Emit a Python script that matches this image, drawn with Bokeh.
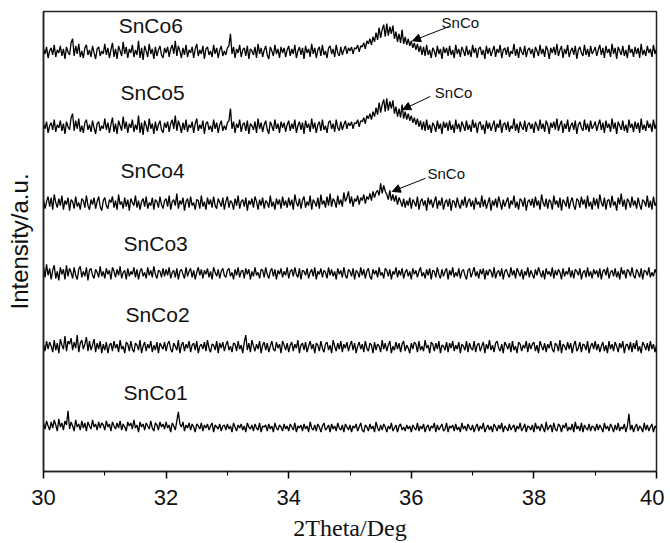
from bokeh.plotting import figure
from bokeh.models import Range1d, Arrow, NormalHead, FixedTicker, ColumnDataSource
from bokeh.core.properties import value
from bokeh.embed import file_html
from bokeh.resources import INLINE

# ---- data: 2-theta grid (step 0.025 deg) and six XRD patterns (a.u.) ----
two_theta_start = 30.0
two_theta_step = 0.025

snco56 = [
    3,-2,5,-6,1,4,-3,7,-5,2,-1,6,-4,3,-7,5,0,-3,9,13,-4,6,-2,8,-5,1,-6,4,7,-3,2,-5,6,-1,-7,3,5,-4,1,-2,
    8,-3,4,-6,2,9,-5,3,-7,6,1,-4,10,-2,5,-6,3,-1,7,-5,2,-3,11,-6,4,-8,6,1,-5,8,-2,3,-7,5,-4,2,6,-3,-6,4,
    -1,5,-5,3,7,-2,11,-4,6,1,-6,4,-3,7,-5,2,-1,5,-6,3,8,-4,2,-2,6,-7,3,5,-3,1,-5,7,-2,4,-6,2,6,-4,1,-3,
    4,6,18,-2,5,-6,3,-1,7,-5,2,4,-4,6,-7,3,1,-3,5,-6,8,-2,4,-5,2,6,-3,-7,5,1,-4,7,-2,3,-6,5,-1,4,-5,2,
    6,-4,3,-2,7,-6,1,5,-3,4,-7,6,-1,3,-5,8,-2,4,-6,2,5,-4,7,-3,1,-6,4,6,-2,3,-5,7,-1,-4,5,-3,2,6,-2,4,
    1,5,-2,4,3,7,0,6,5,9,3,11,8,13,7,15,10,19,12,24,14,22,27,15,28,16,25,18,26,13,20,10,18,9,22,8,15,7,13,6,
    11,4,9,2,8,0,6,-3,5,-4,7,-3,2,-6,4,1,-5,6,-2,3,-7,5,-1,4,-4,6,-3,2,-6,7,-2,3,-5,5,1,-4,6,-3,2,-5,
    7,-1,4,-6,3,5,-3,2,-7,6,-2,4,-4,1,6,-5,3,-1,7,-6,2,4,-3,5,-5,1,-2,8,-4,3,-6,5,0,-3,6,-5,2,4,-2,3,
    -6,5,1,-4,7,-2,3,-5,6,2,-7,4,-1,5,-3,8,-4,2,6,-6,3,-2,7,-5,1,4,-3,6,-7,2,5,-1,-4,7,-3,3,-5,6,-2,1,
    5,-4,2,7,-3,4,-6,6,-1,3,-5,8,-2,4,-7,5,1,-3,6,-4,2,-6,7,-1,3,-5,5,-2,4,-6,8,-3,2,-4,6,-1,3,-5,7,-2,3,
]
snco6 = snco56
snco5 = snco56
snco4 = [
    4,-5,2,7,-3,6,-6,9,1,-4,5,-2,8,-6,3,-1,6,-7,4,2,-5,7,-3,1,-6,5,3,-4,8,-2,-6,4,-1,6,-5,2,7,-3,-7,3,
    6,-2,-5,4,1,7,-4,3,-6,9,-1,2,-5,6,-3,4,-7,5,1,-2,8,-4,3,-6,2,5,-3,7,-5,1,-2,6,-6,4,2,-4,7,-1,-5,3,
    5,-3,8,-6,2,4,-2,10,-5,3,-1,6,-7,2,5,-4,7,-2,1,-6,4,3,-5,8,-3,2,-6,6,-1,4,-4,7,-2,-5,5,1,-3,6,-6,2,
    7,-4,3,1,-6,5,-2,8,-5,2,4,-3,6,-7,3,-1,5,-4,7,2,-6,4,-2,6,-5,3,1,-4,8,-3,2,-6,5,-1,4,-5,7,-2,3,-4,
    6,-2,4,-6,9,1,-3,5,-5,3,7,-4,2,-2,8,-6,4,1,-3,6,-5,9,-1,3,-4,7,-2,10,-3,5,2,-4,8,-1,4,-3,11,2,6,12,
    0,7,-3,5,2,8,-1,6,3,9,0,7,4,10,3,12,6,11,13,8,20,10,18,12,9,4,13,3,9,2,8,-1,6,2,-3,5,-4,3,-2,6,
    -5,4,1,-3,7,-6,2,5,-2,3,-7,6,-1,4,-4,2,7,-5,3,-2,6,-6,1,4,-3,5,-7,3,2,-4,6,-1,-5,4,-2,7,-4,2,5,-3,
    3,-6,6,-1,2,-4,8,-3,4,-5,1,6,-7,3,-2,5,-4,7,1,-6,4,-3,2,6,-5,3,-1,8,-4,2,-6,5,3,-3,6,-7,2,4,-2,5,
    -4,7,-2,3,-6,9,1,-3,5,-5,4,2,-6,8,-1,3,-4,6,-7,4,1,-3,7,-5,2,6,-2,-6,5,3,-4,7,-1,4,-5,8,-3,2,-6,6,
    -2,5,-5,9,1,-3,6,-6,3,4,-4,8,-2,2,-7,6,-1,10,-3,4,-6,5,2,-4,7,-2,3,-5,6,-1,-6,4,2,-3,8,-4,3,-6,7,-2,1,
]
snco3 = [
    7,-4,9,-2,5,-6,3,8,-5,2,-7,6,-1,4,-6,8,-3,5,1,-5,6,-2,-6,4,7,-4,2,-3,6,-7,3,5,-2,-5,4,1,-4,7,-3,2,
    -5,5,-1,3,-6,6,2,-4,4,-2,7,-5,1,3,-6,5,-3,2,-1,6,-4,4,-6,2,5,-3,1,-5,6,-2,3,-4,7,-1,-5,3,2,-4,5,-3,
    4,-2,6,-5,1,3,-4,5,-6,2,4,-1,-5,6,-3,2,5,-4,3,-6,1,6,-2,4,-5,3,-1,5,-4,2,-6,6,1,-3,4,-5,2,5,-2,-4,
    3,5,-3,1,-6,4,-2,6,-4,2,3,-5,5,-1,4,-6,2,-3,6,-2,1,-5,4,3,-4,6,-1,-5,2,5,-3,4,-6,3,-1,5,-4,2,-2,6,
    -5,2,4,-3,6,-1,-4,5,-6,3,2,-2,5,-5,1,4,-3,6,-6,2,-1,5,-4,3,1,-5,6,-2,4,-3,2,-6,5,-1,3,-4,6,-2,-5,4,
    2,-3,5,-6,3,1,-4,6,-2,4,-5,2,5,-3,-6,4,-1,3,-4,6,-2,1,-5,5,3,-3,4,-6,2,-1,6,-4,3,-2,5,-5,1,4,-3,2,
    -6,5,-1,3,-4,2,6,-3,1,-5,4,-2,5,-6,3,2,-4,6,-1,-5,4,-3,2,5,-6,3,-2,6,-4,1,-3,5,-5,2,4,-2,-6,3,5,-4,
    1,6,-3,2,-5,4,-1,5,-6,3,-2,4,2,-4,6,-5,1,3,-3,5,-6,2,4,-1,-4,6,-2,3,-5,5,1,-3,4,-6,2,-2,6,-4,3,-1,
    -5,4,-2,6,1,-4,3,-6,5,-1,2,-3,6,-5,3,-2,4,1,-6,5,-3,2,-1,6,-4,3,-5,4,2,-2,5,-6,1,3,-4,6,-3,2,-5,4,
    -1,3,-4,5,-6,2,4,-2,6,-5,1,3,-3,5,-4,2,-6,6,-1,3,-5,4,2,-3,6,-2,-5,4,1,-4,5,-6,3,2,-2,6,-4,1,-3,4,0,
]
snco2 = [
    3,-4,6,-2,5,1,-5,7,-3,4,-6,8,2,-2,11,-4,6,3,9,-3,5,-1,12,-5,4,7,-2,3,10,-4,6,-3,2,8,-5,4,-2,6,-6,3,
    -3,5,-6,2,4,-4,6,-1,3,-5,7,-2,1,-6,5,3,-4,6,-2,-5,4,2,-3,7,-6,1,5,-4,3,-1,6,-5,2,-3,5,-6,4,1,-2,5,
    -4,3,6,-2,-5,4,1,-3,7,-6,2,5,-4,3,-1,6,-5,2,4,-3,6,-6,1,3,-2,5,-4,7,-1,-5,3,2,-3,6,-6,4,-1,5,-4,2,
    6,-3,1,-5,4,3,-4,6,-2,2,-6,5,12,-3,4,-5,7,1,-4,3,-2,6,-6,2,5,-3,4,-5,1,6,-2,-4,5,-1,3,-6,6,2,-3,4,
    -5,2,5,-4,3,-1,7,-6,2,4,-3,5,-5,1,6,-2,3,-6,4,2,-4,6,-1,-5,3,5,-3,2,-6,7,1,-4,4,-2,6,-5,3,-1,5,-4,
    2,6,-3,4,-6,1,5,-2,3,-5,6,-1,-4,4,2,-6,5,-3,3,1,-5,7,-2,4,-4,2,6,-6,1,-3,5,-2,4,-5,3,6,-4,2,-1,-6,
    4,-2,5,3,-5,6,-3,1,-4,7,-1,2,-6,5,3,-4,4,-2,6,-6,2,1,-3,5,-5,4,-1,6,-4,2,-2,5,-6,3,1,-3,6,-5,4,-1,
    -3,6,-5,2,4,-4,1,5,-6,3,-2,7,-3,2,-5,4,6,-1,-4,3,-6,5,2,-2,4,-5,6,-3,1,-6,5,3,-4,2,-1,6,-5,4,-2,3,
    5,-4,2,-6,6,1,-3,4,-5,3,-1,6,-2,-5,4,2,-4,7,-6,3,1,-3,5,-2,4,-6,2,6,-4,-1,5,-5,3,2,-3,6,-6,1,4,-2,
    6,-3,3,-5,1,5,-4,2,-6,6,-2,3,-4,5,1,-5,4,-1,6,-6,2,3,-3,5,-5,4,-2,7,-4,1,-6,5,2,-3,4,-4,6,-2,3,-5,2,
]
snco1 = [
    5,-1,7,2,-2,6,0,8,3,-3,9,1,5,-2,7,3,17,-1,6,2,-3,8,1,4,-2,7,0,5,-3,6,2,-1,8,1,4,-2,6,0,5,3,
    -2,7,1,4,-3,6,2,-1,5,0,7,-2,4,1,-3,6,2,5,-1,8,0,3,-4,6,1,4,-2,5,2,-1,7,0,-3,5,3,-2,6,1,4,-1,
    6,0,3,-4,5,2,-2,7,16,4,1,6,-3,3,0,5,-2,4,1,-4,4,2,-1,5,-3,3,0,4,-2,2,5,-4,3,1,-1,4,-3,2,3,-2,
    4,-1,2,-4,5,1,-3,3,0,4,-2,2,-4,5,1,-1,3,-3,4,0,-2,5,-4,2,1,3,-3,4,-1,2,-4,5,0,-2,3,1,-3,4,-1,2,
    -3,4,1,-2,5,-4,2,0,3,-3,4,-1,2,-4,6,0,-2,3,-3,4,1,-4,2,5,-2,0,3,-4,4,-1,2,-3,5,0,-2,3,-4,4,1,-2,
    3,-4,2,0,4,-3,1,5,-2,-4,3,1,-3,4,-1,2,-4,6,0,-3,3,-2,4,1,-4,2,-1,5,-3,0,3,-4,2,4,-2,1,-3,3,-1,2,
    -4,3,0,-2,5,-3,2,-1,4,-4,1,3,-3,2,0,5,-4,3,-2,1,4,-3,-1,5,-4,2,0,3,-3,4,-2,1,-4,5,-1,2,-3,4,0,-2,
    3,-4,1,4,-3,2,-1,5,-4,0,3,-2,2,-4,4,1,-3,3,-1,5,-4,2,0,-3,4,-2,1,3,-4,2,-1,5,-3,0,4,-4,2,1,-2,3,
    -4,5,-1,2,-3,4,0,-4,6,-2,1,3,-4,5,-1,-3,4,2,-4,3,0,5,-3,1,-2,4,-4,6,-1,2,-3,5,-4,3,0,-2,4,-3,2,1,
    -3,4,-2,3,0,-4,5,-1,2,-3,4,1,-4,3,-2,5,-3,1,-1,4,-4,2,14,-2,3,-4,1,4,-3,2,0,-4,5,-2,3,-3,1,4,-4,2,0,
]
series_names = ["SnCo1", "SnCo2", "SnCo3", "SnCo4", "SnCo5", "SnCo6"]
series_values = [snco1, snco2, snco3, snco4, snco5, snco6]
x_ticks = [30, 32, 34, 36, 38, 40]
x_minor_ticks = [31, 33, 35, 37, 39]

# ---- layout (stack offsets, label placement) ----
offsets = [43, 123, 196, 265, 341, 415]
label_x = [31.83, 31.86, 31.83, 31.78, 31.78, 31.75]
label_y = [78, 155, 226, 298, 375, 441]

p = figure(width=664, height=543, output_backend="svg", toolbar_location=None,
           x_range=Range1d(30, 40), y_range=Range1d(0, 455),
           min_border_left=43, min_border_top=11, min_border_right=8,
           min_border_bottom=60)
p.background_fill_color = "white"
p.border_fill_color = "white"
p.outline_line_color = "#222222"
p.outline_line_width = 1.5
p.grid.visible = False

for name, vals, off in zip(series_names, series_values, offsets):
    xs = [two_theta_start + two_theta_step * i for i in range(len(vals))]
    ys = [v + off for v in vals]
    p.line(xs, ys, line_color="black", line_width=1.3)

src = ColumnDataSource(dict(x=label_x, y=label_y, t=series_names))
p.text(x="x", y="y", text="t", source=src, text_align="center",
       text_baseline="middle", text_font=value("Liberation Sans"),
       text_font_size="21px", text_color="#111111")

# SnCo annotations with arrows
ann_x = [36.80, 36.69, 36.57]
ann_y = [444, 375, 295]
arr_x0 = [36.61, 36.31, 36.23]
arr_y0 = [440, 371, 290]
arr_x1 = [36.02, 35.86, 35.69]
arr_y1 = [426, 358, 277]
asrc = ColumnDataSource(dict(x=ann_x, y=ann_y, t=["SnCo"] * 3))
p.text(x="x", y="y", text="t", source=asrc, text_align="center",
       text_baseline="middle", text_font=value("Liberation Sans"),
       text_font_size="15px", text_color="#111111")
for a, b, c, d in zip(arr_x0, arr_y0, arr_x1, arr_y1):
    p.add_layout(Arrow(end=NormalHead(size=8, fill_color="black", line_color="black"),
                       x_start=a, y_start=b, x_end=c, y_end=d,
                       line_color="black", line_width=1))

# x axis
xa = p.xaxis[0]
xa.ticker = FixedTicker(ticks=x_ticks, minor_ticks=x_minor_ticks)
xa.axis_label = "2Theta/Deg"
xa.axis_label_text_font = "Liberation Serif"
xa.axis_label_text_font_style = "normal"
xa.axis_label_text_font_size = "24px"
xa.axis_label_text_color = "#111111"
xa.axis_label_standoff = 7
xa.major_label_text_font = "Liberation Sans"
xa.major_label_text_font_size = "22px"
xa.major_label_text_color = "#111111"
xa.major_label_standoff = 11
xa.major_tick_out = 7
xa.major_tick_in = 0
xa.minor_tick_out = 4
xa.minor_tick_in = 0
xa.axis_line_width = 1.5
xa.major_tick_line_width = 1.5
xa.axis_line_color = "#222222"

# y axis
ya = p.yaxis[0]
ya.axis_label = "Intensity/a.u."
ya.axis_label_text_font = "Liberation Sans"
ya.axis_label_text_font_style = "normal"
ya.axis_label_text_font_size = "24px"
ya.axis_label_text_color = "#111111"
ya.axis_label_standoff = 5
ya.major_tick_line_color = None
ya.minor_tick_line_color = None
ya.major_label_text_font_size = "0px"
ya.axis_line_width = 1.5
ya.axis_line_color = "#222222"

open("out.html", "w").write(file_html(p, INLINE))
